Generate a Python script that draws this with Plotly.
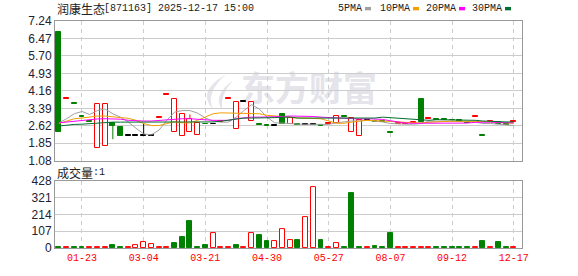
import plotly.graph_objects as go

# ---------------- data ----------------
tick_idx = [3, 11, 19, 27, 35, 43, 51, 59]
tick_labels = ["01-23", "03-04", "03-21", "04-30", "05-27", "08-07", "09-12", "12-17"]

open_ = [6.75, 3.82, 3.60, 3.00, 2.78, 1.62, 1.75, 2.75, 2.58, 2.18,
         2.18, 2.18, 2.18, 2.96, 3.97, 2.36, 2.18, 2.36, 2.22, 2.69,
         2.69, 2.79, 3.82, 2.46, 3.68, 2.82, 2.65, 2.61, 2.61, 3.15,
         2.69, 2.65, 2.65, 2.65, 2.61, 2.70, 2.75, 3.00, 2.33, 2.15,
         2.86, 2.80, 2.78, 2.31, 2.70, 2.72, 2.75, 3.82, 2.92, 2.88,
         2.87, 2.86, 2.86, 2.76, 3.00, 2.19, 2.82, 2.78, 2.67, 2.78]
close = [2.36, 3.82, 3.60, 3.00, 2.78, 3.58, 3.58, 2.63, 2.18, 2.18,
         2.18, 2.18, 2.18, 2.96, 3.97, 3.82, 3.12, 2.93, 2.75, 2.69,
         2.69, 2.79, 3.82, 3.68, 3.68, 3.68, 2.65, 2.61, 2.61, 2.69,
         2.96, 2.65, 2.65, 2.65, 2.61, 2.70, 3.05, 3.00, 2.96, 2.86,
         2.86, 2.80, 2.78, 2.31, 2.70, 2.72, 2.75, 2.78, 2.92, 2.88,
         2.87, 2.86, 2.78, 2.76, 3.00, 2.19, 2.82, 2.69, 2.67, 2.78]
high = [6.75, 3.82, 3.60, 3.00, 2.78, 3.58, 3.58, 2.75, 2.58, 2.18,
        2.18, 2.72, 2.18, 2.96, 3.97, 3.82, 3.12, 3.12, 2.75, 2.69,
        2.69, 2.79, 3.82, 3.68, 3.68, 3.68, 2.65, 2.61, 2.61, 3.15,
        2.96, 2.65, 2.65, 2.65, 2.61, 2.70, 3.05, 3.00, 2.96, 2.86,
        2.86, 2.80, 2.78, 2.31, 2.70, 2.72, 2.75, 3.82, 2.92, 2.88,
        2.87, 2.86, 2.86, 2.76, 3.00, 2.19, 2.82, 2.78, 2.67, 2.78]
low = [2.36, 3.82, 3.60, 3.00, 2.78, 1.62, 1.75, 2.03, 2.18, 2.18,
       2.18, 2.18, 2.18, 2.96, 3.97, 2.36, 2.18, 2.36, 2.22, 2.69,
       2.69, 2.79, 3.82, 2.46, 3.68, 2.82, 2.65, 2.61, 2.61, 2.69,
       2.69, 2.65, 2.65, 2.65, 2.61, 2.70, 2.75, 3.00, 2.33, 2.15,
       2.86, 2.80, 2.78, 2.31, 2.70, 2.72, 2.75, 2.78, 2.92, 2.88,
       2.87, 2.86, 2.78, 2.76, 3.00, 2.19, 2.82, 2.69, 2.67, 2.78]
volume = [5, 5, 5, 5, 5, 5, 5, 17, 5, 5,
          22, 36, 25, 5, 5, 31, 68, 175, 5, 19,
          97, 5, 5, 19, 5, 97, 81, 43, 42, 118,
          48, 48, 196, 392, 48, 5, 31, 5, 351, 5,
          5, 10, 5, 97, 5, 5, 5, 5, 5, 5,
          5, 5, 5, 5, 5, 42, 5, 37, 5, 5]
vol_up = [0, 1, 0, 0, 1, 1, 1, 0, 0, 1,
          1, 1, 1, 1, 1, 0, 0, 0, 0, 0,
          1, 1, 1, 0, 1, 1, 0, 0, 1, 1,
          1, 0, 1, 1, 0, 1, 1, 0, 0, 0,
          1, 0, 0, 0, 1, 1, 1, 1, 1, 0,
          0, 0, 0, 0, 1, 0, 1, 0, 0, 1]
ma5 = [2.75, 2.93, 3.15, 3.25, 3.12, 3.29, 3.36, 3.15, 3.00, 2.79,
       2.51, 2.26, 2.22, 2.43, 2.86, 3.22, 3.29, 3.29, 3.18, 2.96,
       2.83, 2.78, 2.78, 3.00, 3.29, 3.55, 3.36, 3.00, 2.75, 2.75,
       2.72, 2.69, 2.69, 2.69, 2.68, 2.68, 2.75, 2.79, 2.83, 2.83,
       2.86, 2.82, 2.79, 2.72, 2.69, 2.69, 2.69, 2.72, 2.82, 2.82,
       2.82, 2.82, 2.81, 2.81, 2.78, 2.72, 2.72, 2.69, 2.69, 2.63]
ma10 = [2.72, 2.83, 2.93, 2.96, 3.00, 3.05, 3.05, 3.00, 2.98, 2.95,
        2.86, 2.72, 2.63, 2.63, 2.72, 2.80, 2.75, 2.75, 2.86, 3.00,
        3.15, 3.19, 3.18, 3.19, 3.18, 3.18, 3.15, 3.08, 3.06, 3.03,
        3.00, 2.96, 2.96, 2.96, 2.93, 2.83, 2.73, 2.73, 2.79, 2.83,
        2.86, 2.86, 2.83, 2.81, 2.78, 2.75, 2.75, 2.75, 2.78, 2.78,
        2.81, 2.82, 2.82, 2.82, 2.83, 2.81, 2.79, 2.78, 2.75, 2.72]
ma20 = [2.75, 2.79, 2.83, 2.86, 2.89, 2.92, 2.93, 2.92, 2.91, 2.86,
        2.83, 2.83, 2.83, 2.86, 2.89, 2.93, 2.93, 2.93, 2.90, 2.87,
        2.86, 2.86, 2.86, 2.93, 2.98, 3.00, 3.00, 3.00, 3.00, 3.03,
        3.05, 3.05, 3.05, 3.03, 3.00, 2.98, 2.95, 2.93, 2.93, 2.92,
        2.93, 2.93, 2.90, 2.84, 2.78, 2.74, 2.73, 2.73, 2.73, 2.73,
        2.73, 2.73, 2.73, 2.74, 2.77, 2.78, 2.78, 2.76, 2.75, 2.75]
ma30 = [2.61, 2.65, 2.68, 2.69, 2.72, 2.75, 2.76, 2.78, 2.78, 2.78,
        2.78, 2.78, 2.78, 2.79, 2.79, 2.79, 2.79, 2.79, 2.79, 2.79,
        2.79, 2.82, 2.86, 2.93, 2.96, 2.96, 2.96, 2.96, 2.98, 3.00,
        3.00, 2.96, 2.96, 2.96, 2.93, 2.93, 2.93, 2.93, 2.93, 2.95,
        2.95, 2.96, 3.00, 2.98, 2.93, 2.92, 2.92, 2.89, 2.86, 2.89,
        2.89, 2.89, 2.86, 2.86, 2.86, 2.83, 2.81, 2.79, 2.79, 2.79]
price_ticks = [1.08, 1.85, 2.62, 3.39, 4.16, 4.93, 5.70, 6.47, 7.24]
vol_ticks = [0, 107, 214, 321, 428]

# ---------------- styles ----------------
RED = "#ff0000"
GREEN = "#008000"
BLACK = "#000000"
W, H = 578, 276
L, R, T, B = 55, 56, 21, 21
PW, PH = W - L - R, H - T - B


def px_x(p):
    return (p - L) / PW


def px_y(p):
    return (H - B - p) / PH


n = len(close)
xs = list(range(n))

body_base, body_h, fill_c, line_c = [], [], [], []
wick = {RED: ([], []), GREEN: ([], []), BLACK: ([], [])}
for i in range(n):
    o, c = open_[i], close[i]
    prev = close[i - 1] if i > 0 else o
    if c > o:
        col, fc = RED, "#ffffff"
    elif c < o:
        col, fc = GREEN, GREEN
    else:
        col = RED if c > prev else (GREEN if c < prev else BLACK)
        fc = col
    lo_b, hi_b = min(o, c), max(o, c)
    body_base.append(lo_b)
    body_h.append(max(hi_b - lo_b, 0.03))
    fill_c.append(fc)
    line_c.append(col)
    wx, wy = wick[col]
    if high[i] > hi_b:
        wx += [i, i, None]
        wy += [hi_b, high[i], None]
    if low[i] < lo_b:
        wx += [i, i, None]
        wy += [low[i], lo_b, None]

fig = go.Figure()
fig.add_trace(go.Bar(x=xs, y=body_h, base=body_base, width=0.64,
                     marker=dict(color=fill_c, line=dict(color=line_c, width=1)),
                     xaxis="x", yaxis="y", hoverinfo="skip"))
for col, (wx, wy) in wick.items():
    if wx:
        fig.add_trace(go.Scatter(x=wx, y=wy, mode="lines", line=dict(color=col, width=1),
                                 xaxis="x", yaxis="y", hoverinfo="skip"))
for vals, col in [(ma5, "#a0a0a0"), (ma10, "#f0a000"), (ma20, "#ff00ff"), (ma30, "#006f30")]:
    fig.add_trace(go.Scatter(x=xs, y=vals, mode="lines", line=dict(color=col, width=1),
                             xaxis="x", yaxis="y", hoverinfo="skip"))

vfill = ["#ffffff" if u else GREEN for u in vol_up]
vline = [RED if u else GREEN for u in vol_up]
fig.add_trace(go.Bar(x=xs, y=volume, width=0.64,
                     marker=dict(color=vfill, line=dict(color=vline, width=1)),
                     xaxis="x2", yaxis="y2", hoverinfo="skip"))

grid_h = "#cccccc"
axis_common = dict(showline=True, linecolor="#999999", linewidth=1, mirror=True,
                   zeroline=False, ticks="", fixedrange=True)
xr = [-0.5, 60.07]
fig.update_layout(
    width=W, height=H, margin=dict(l=L, r=R, t=T, b=B),
    paper_bgcolor="white", plot_bgcolor="white", showlegend=False,
    bargap=0,
    xaxis=dict(domain=[0, 1], anchor="y", range=xr, tickvals=tick_idx, ticktext=tick_labels,
               showticklabels=False, showgrid=True, gridcolor=grid_h, griddash="4px,4px",
               **axis_common),
    yaxis=dict(domain=[px_y(165), 1], anchor="x", range=[1.08, 7.24], tickvals=price_ticks,
               ticktext=["%.2f" % v for v in price_ticks], showgrid=True, gridcolor=grid_h,
               tickfont=dict(family="Arial", size=12, color="#222233"), **axis_common),
    xaxis2=dict(domain=[0, 1], anchor="y2", range=xr, tickvals=tick_idx, ticktext=tick_labels,
                showgrid=True, gridcolor=grid_h, griddash="4px,4px",
                tickfont=dict(family="Liberation Mono", size=10, color=RED), **axis_common),
    yaxis2=dict(domain=[0, px_y(186)], anchor="x2", range=[0, 428], tickvals=vol_ticks,
                showgrid=True, gridcolor=grid_h,
                tickfont=dict(family="Arial", size=12, color="#222233"), **axis_common),
)

ann = []


def text(x, y, s, size, family, color="#222222"):
    ann.append(dict(x=px_x(x), y=px_y(y), xref="paper", yref="paper", text=s,
                    showarrow=False, xanchor="left", yanchor="middle", borderpad=0,
                    font=dict(size=size, family=family, color=color)))


text(56, 8, "润康生态", 12, "Noto Sans CJK SC")
text(103, 8, "[871163] 2025-12-17 15:00", 10, "Liberation Mono")
text(337, 8, "5PMA", 10, "Liberation Mono")
text(379, 8, "10PMA", 10, "Liberation Mono")
text(425, 8, "20PMA", 10, "Liberation Mono")
text(471, 8, "30PMA", 10, "Liberation Mono")
text(56, 177, "成交量", 12, "Noto Sans CJK SC")
text(92, 177, ":1", 10, "Liberation Mono")
fig.update_layout(annotations=ann)

shapes = []
for x0, col in [(365, "#a0a0a0"), (413, "#f0a000"), (459, "#ff00ff"), (505, "#006f30")]:
    shapes.append(dict(type="rect", xref="paper", yref="paper", x0=px_x(x0), x1=px_x(x0 + 6),
                       y0=px_y(10), y1=px_y(6.5), line=dict(width=0), fillcolor=col))
# watermark
shapes.append(dict(type="rect", xref="paper", yref="paper", layer="below",
                   x0=px_x(238), x1=px_x(380), y0=px_y(113), y1=px_y(74),
                   line=dict(width=0), fillcolor="rgba(0,0,0,0)",
                   label=dict(text="东方财富", textposition="middle center",
                              font=dict(size=34, family="Noto Sans CJK SC", color="#e4e4ea",
                                        weight="bold"))))


def pth(pts):
    s = "M %f %f " % (px_x(pts[0][0]), px_y(pts[0][1]))
    for i in range(1, len(pts) - 1, 2):
        s += "Q %f %f %f %f " % (px_x(pts[i][0]), px_y(pts[i][1]),
                                 px_x(pts[i + 1][0]), px_y(pts[i + 1][1]))
    return s + "Z"


shapes.append(dict(type="path", xref="paper", yref="paper", layer="below",
                   path=pth([(226, 76), (196, 94), (213, 112), (205, 95), (226, 76)]),
                   fillcolor="#e4e4ea", line=dict(width=0)))
shapes.append(dict(type="path", xref="paper", yref="paper", layer="below",
                   path=pth([(233, 82), (212, 98), (222, 112), (220, 97), (233, 82)]),
                   fillcolor="#e4e4ea", line=dict(width=0)))
fig.update_layout(shapes=shapes)

fig.write_html("out.html")
